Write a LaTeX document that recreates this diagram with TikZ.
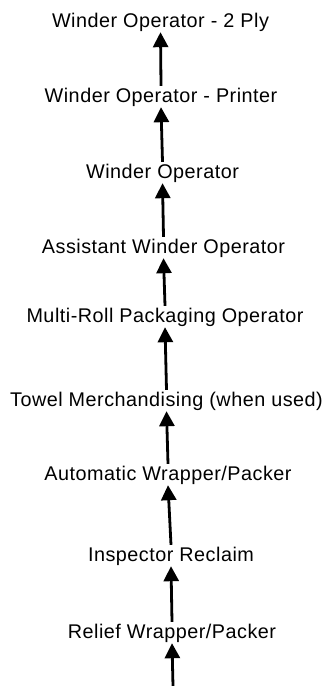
\documentclass[tikz,border=0pt]{standalone}
\usepackage{fontspec}
\setmainfont[LetterSpace=2.5]{Liberation Sans}
\usetikzlibrary{arrows.meta}
\begin{document}
\begin{tikzpicture}[x=1pt,y=-1pt,
  job/.style={anchor=base,inner sep=0pt,text height=16pt,text depth=5pt,font=\fontsize{19.8}{22}\selectfont},
  up/.style={-{Triangle[width=15pt,length=15pt]},line width=2.8pt}]
\useasboundingbox (0,0) rectangle (332,686);
\node[job] (n1) at (160.5,27) {Winder Operator - 2 Ply};
\node[job] (n2) at (161,102) {Winder Operator - Printer};
\node[job] (n3) at (162.5,178) {Winder Operator};
\node[job] (n4) at (163.5,253) {Assistant Winder Operator};
\node[job] (n5) at (165,322) {Multi-Roll Packaging Operator};
\node[job] (n6) at (166.5,406) {Towel Merchandising (when used)};
\node[job] (n7) at (168,480) {Automatic Wrapper/Packer};
\node[job] (n8) at (171,561) {Inspector Reclaim};
\node[job] (n9) at (172,638) {Relief Wrapper/Packer};
\coordinate (b) at (173,686);
\draw[up] (n2.north) -- (n1.south);
\draw[up] (n3.north) -- (n2.south);
\draw[up] (n4.north) -- (n3.south);
\draw[up] (n5.north) -- (n4.south);
\draw[up] (n6.north) -- (n5.south);
\draw[up] (n7.north) -- (n6.south);
\draw[up] (n8.north) -- (n7.south);
\draw[up] (n9.north) -- (n8.south);
\draw[up] (b) -- (n9.south);
\end{tikzpicture}
\end{document}
